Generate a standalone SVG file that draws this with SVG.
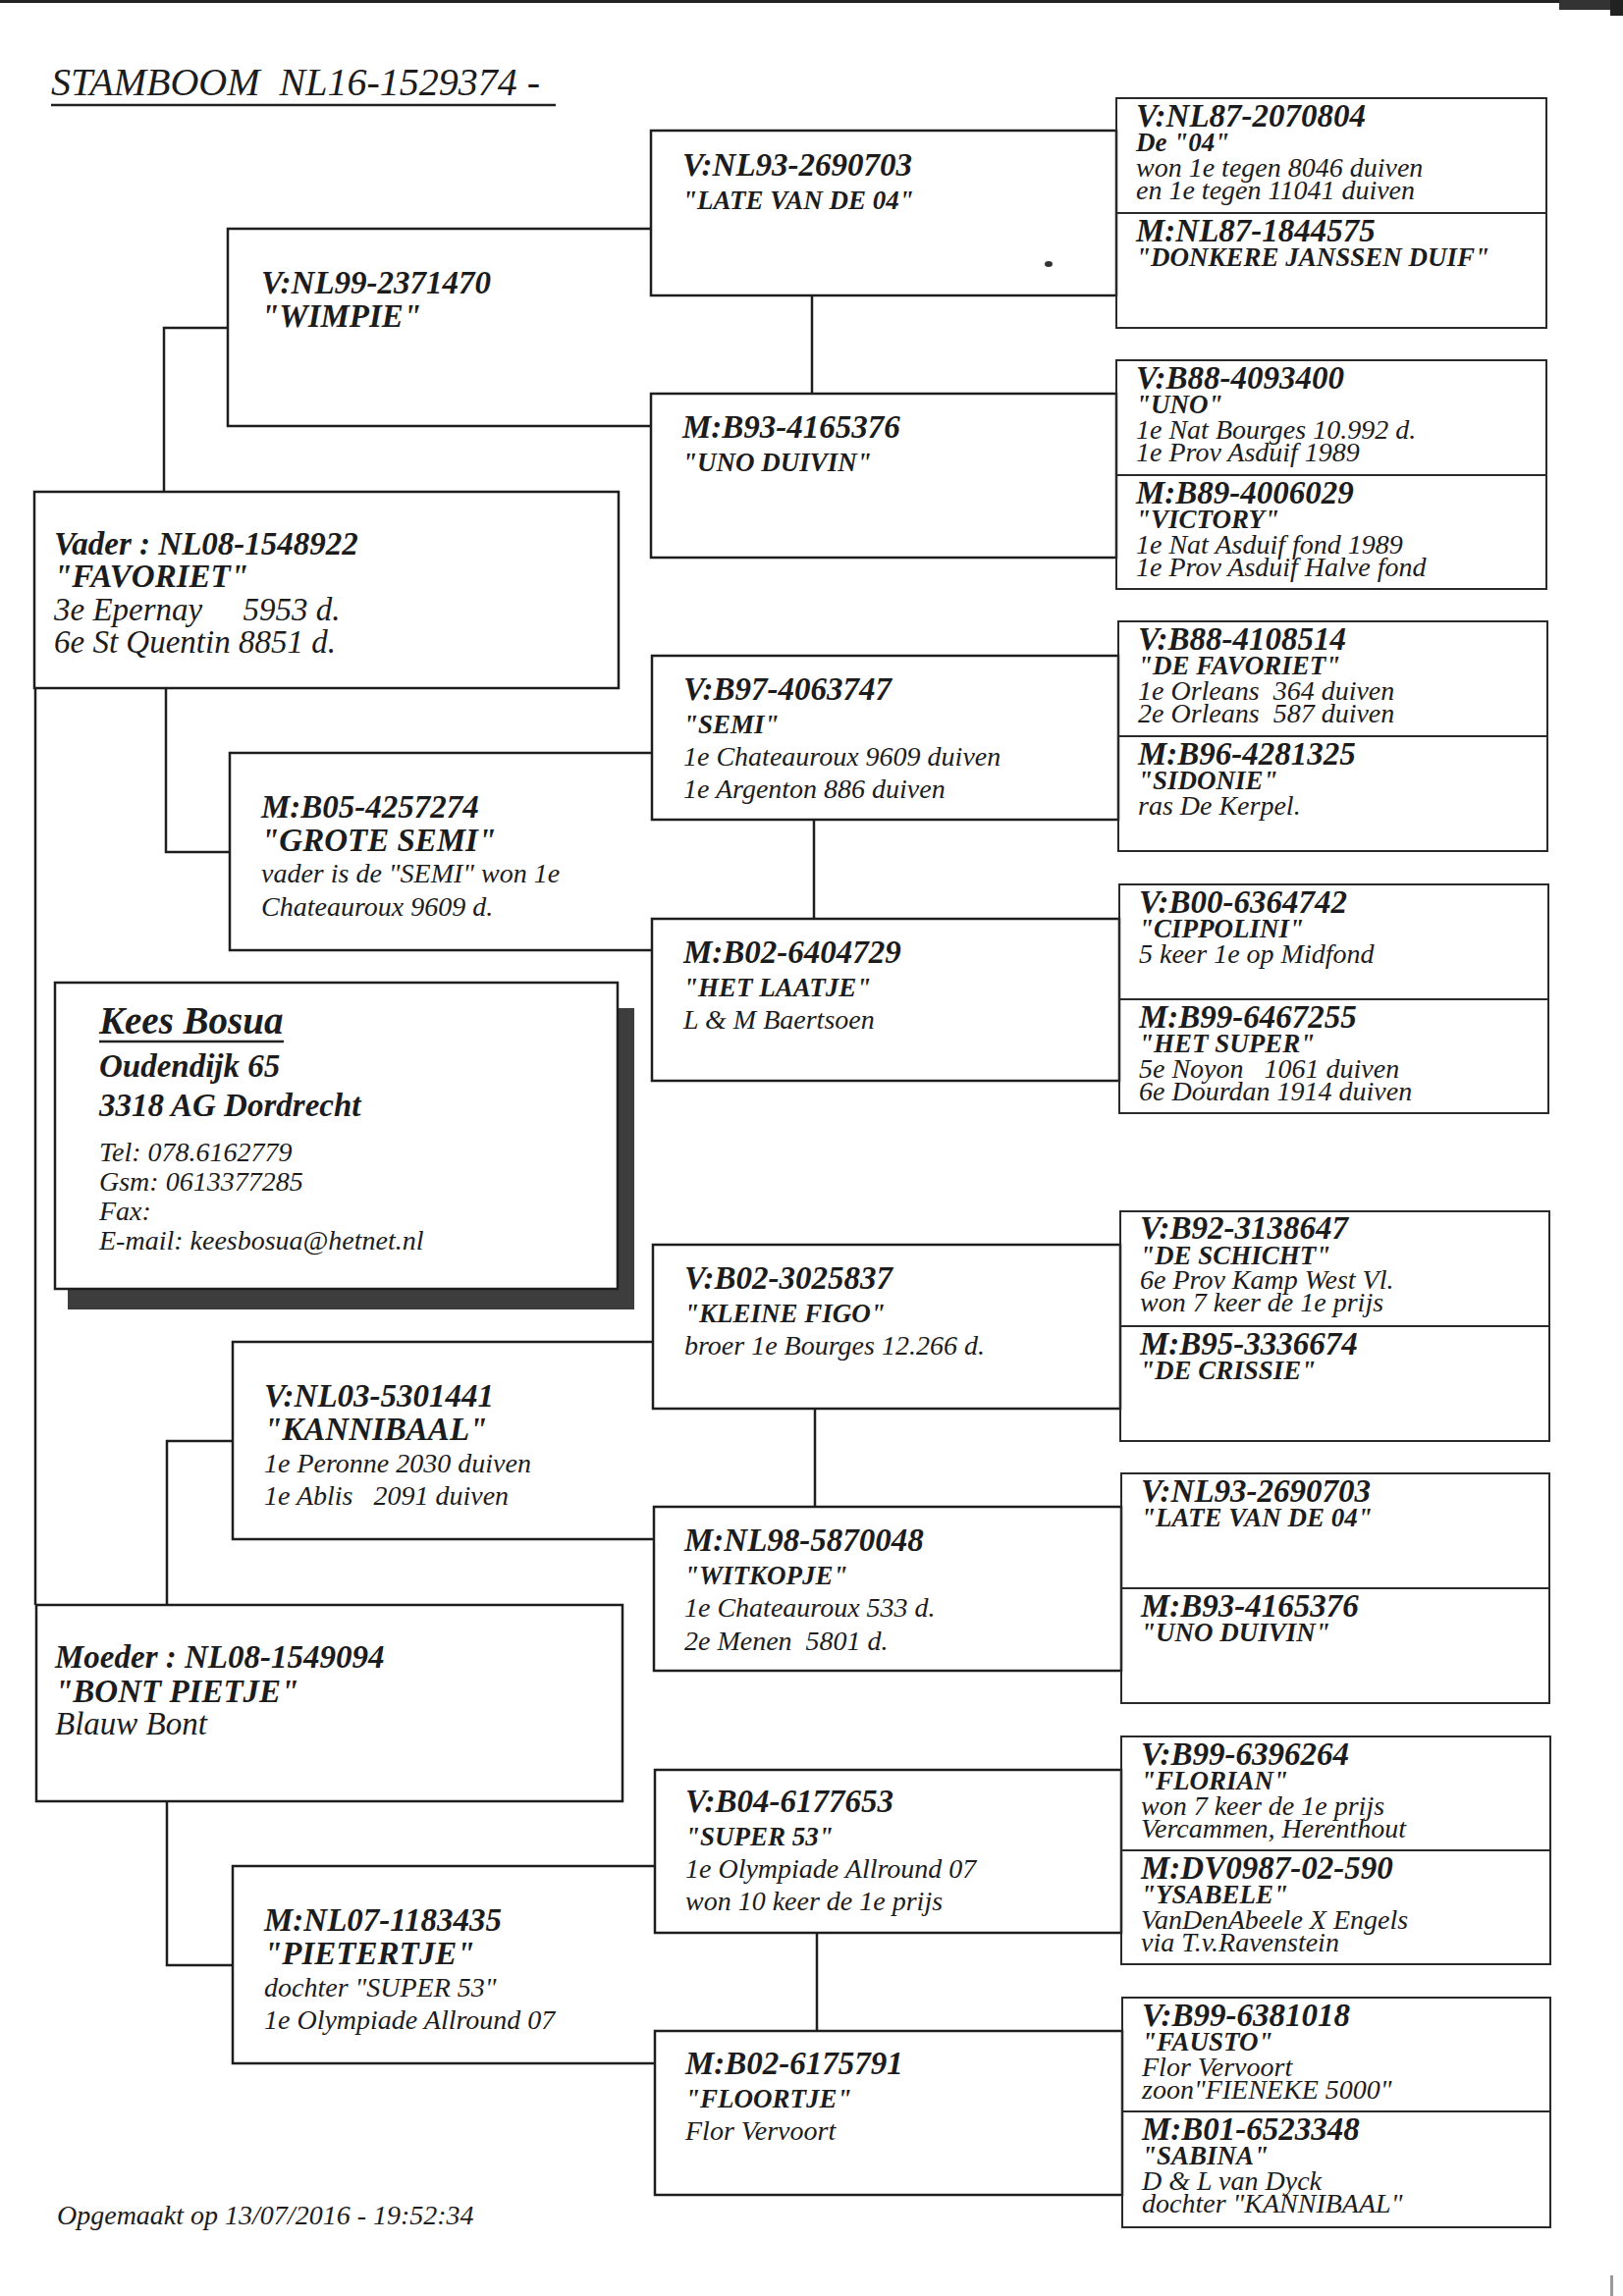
<svg xmlns="http://www.w3.org/2000/svg" width="1653" height="2339" viewBox="0 0 1653 2339">
<style>
text { font-family: "Liberation Serif", "Times New Roman", serif; font-style: italic; fill: #1c1c1c; white-space: pre; }
.id { font-weight: bold; font-size: 33px; }
.n27 { font-weight: bold; font-size: 27px; }
.n33 { font-weight: bold; font-size: 33px; }
.t28 { font-size: 28px; }
.t33 { font-size: 33px; }
.title { font-size: 40px; }
.k39 { font-weight: bold; font-size: 39px; }
.box { fill: none; stroke: #1e1e1e; stroke-width: 2.5; }
.box4 { fill: none; stroke: #2a2a2a; stroke-width: 2; }
.con { fill: none; stroke: #1e1e1e; stroke-width: 2.5; }
</style>
<rect x="0" y="0" width="1653" height="2339" fill="#ffffff"/>
<!-- scan artefacts -->
<rect x="0" y="0" width="1653" height="3" fill="#222"/>
<rect x="1588" y="0" width="65" height="10" fill="#333"/>
<rect x="1640" y="0" width="13" height="16" fill="#222"/>
<rect x="1640" y="2318" width="3" height="21" fill="#999"/>
<ellipse cx="1068" cy="269" rx="4" ry="3" fill="#333"/>

<g id="title">
<text class="title" x="52" y="97">STAMBOOM  NL16-1529374 -</text>
<line x1="52" y1="107" x2="566" y2="107" stroke="#222" stroke-width="2.5"/>
</g>

<g id="connectors">
<path class="con" d="M167,501 V334 H232"/>
<path class="con" d="M169,701 V868 H234"/>
<path class="con" d="M36,701 V1635"/>
<path class="con" d="M170,1635 V1468 H237"/>
<path class="con" d="M170,1835 V2002 H237"/>
<path class="con" d="M827,301 V401"/>
<path class="con" d="M829,835 V936"/>
<path class="con" d="M830,1435 V1535"/>
<path class="con" d="M832,1969 V2069"/>
</g>

<!-- Column 1 -->
<g id="vader">
<rect class="box" x="35" y="501" width="595" height="200"/>
<text class="id" x="55" y="565">Vader : NL08-1548922</text>
<text class="n33" x="55" y="598">"FAVORIET"</text>
<text class="t33" x="55" y="632">3e Epernay     5953 d.</text>
<text class="t33" x="55" y="665">6e St Quentin 8851 d.</text>
</g>
<g id="moeder">
<rect class="box" x="37" y="1635" width="597" height="200"/>
<text class="id" x="56" y="1699">Moeder : NL08-1549094</text>
<text class="n33" x="56" y="1734">"BONT PIETJE"</text>
<text class="t33" x="56" y="1767">Blauw Bont</text>
</g>

<g id="kees">
<rect x="630" y="1027" width="16" height="307" fill="#3d3d3d"/>
<rect x="69" y="1313" width="577" height="21" fill="#3d3d3d"/>
<rect class="box" x="56" y="1001" width="573" height="312" fill="#fff"/>
<text class="k39" x="101" y="1053">Kees Bosua</text>
<line x1="101" y1="1061" x2="289" y2="1061" stroke="#222" stroke-width="2.5"/>
<text class="n33" x="101" y="1097">Oudendijk 65</text>
<text class="n33" x="101" y="1137">3318 AG Dordrecht</text>
<text class="t28" x="101" y="1183">Tel: 078.6162779</text>
<text class="t28" x="101" y="1213">Gsm: 0613377285</text>
<text class="t28" x="101" y="1243">Fax:</text>
<text class="t28" x="101" y="1273">E-mail: keesbosua@hetnet.nl</text>
</g>

<!-- Column 2 -->
<g id="wimpie">
<path class="box" d="M663,233 H232 V434 H663"/>
<text class="id" x="266" y="299">V:NL99-2371470</text>
<text class="n33" x="266" y="333">"WIMPIE"</text>
</g>
<g id="grote-semi">
<path class="box" d="M664,767 H234 V968 H664"/>
<text class="id" x="266" y="833">M:B05-4257274</text>
<text class="n33" x="266" y="867">"GROTE SEMI"</text>
<text class="t28" x="266" y="899">vader is de "SEMI" won 1e</text>
<text class="t28" x="266" y="933">Chateauroux 9609 d.</text>
</g>
<g id="kannibaal">
<path class="box" d="M665,1367 H237 V1568 H666"/>
<text class="id" x="269" y="1433">V:NL03-5301441</text>
<text class="n33" x="269" y="1467">"KANNIBAAL"</text>
<text class="t28" x="269" y="1500">1e Peronne 2030 duiven</text>
<text class="t28" x="269" y="1533">1e Ablis   2091 duiven</text>
</g>
<g id="pietertje">
<path class="box" d="M667,1901 H237 V2102 H667"/>
<text class="id" x="269" y="1967">M:NL07-1183435</text>
<text class="n33" x="269" y="2001">"PIETERTJE"</text>
<text class="t28" x="269" y="2034">dochter "SUPER 53"</text>
<text class="t28" x="269" y="2067">1e Olympiade Allround 07</text>
</g>

<!-- Column 3 -->
<g id="c3-1">
<rect class="box" x="663" y="133" width="474" height="168"/>
<text class="id" x="695" y="179">V:NL93-2690703</text>
<text class="n27" x="695" y="213">"LATE VAN DE 04"</text>
</g>
<g id="c3-2">
<rect class="box" x="663" y="401" width="474" height="167"/>
<text class="id" x="695" y="446">M:B93-4165376</text>
<text class="n27" x="695" y="480">"UNO DUIVIN"</text>
</g>
<g id="c3-3">
<rect class="box" x="664" y="668" width="475" height="167"/>
<text class="id" x="696" y="713">V:B97-4063747</text>
<text class="n27" x="696" y="747">"SEMI"</text>
<text class="t28" x="696" y="780">1e Chateauroux 9609 duiven</text>
<text class="t28" x="696" y="813">1e Argenton 886 duiven</text>
</g>
<g id="c3-4">
<rect class="box" x="664" y="936" width="476" height="165"/>
<text class="id" x="696" y="981">M:B02-6404729</text>
<text class="n27" x="696" y="1015">"HET LAATJE"</text>
<text class="t28" x="696" y="1048">L &amp; M Baertsoen</text>
</g>
<g id="c3-5">
<rect class="box" x="665" y="1268" width="476" height="167"/>
<text class="id" x="697" y="1313">V:B02-3025837</text>
<text class="n27" x="697" y="1347">"KLEINE FIGO"</text>
<text class="t28" x="697" y="1380">broer 1e Bourges 12.266 d.</text>
</g>
<g id="c3-6">
<rect class="box" x="666" y="1535" width="476" height="167"/>
<text class="id" x="697" y="1580">M:NL98-5870048</text>
<text class="n27" x="697" y="1614">"WITKOPJE"</text>
<text class="t28" x="697" y="1647">1e Chateauroux 533 d.</text>
<text class="t28" x="697" y="1681">2e Menen  5801 d.</text>
</g>
<g id="c3-7">
<rect class="box" x="667" y="1803" width="475" height="166"/>
<text class="id" x="698" y="1846">V:B04-6177653</text>
<text class="n27" x="698" y="1880">"SUPER 53"</text>
<text class="t28" x="698" y="1913">1e Olympiade Allround 07</text>
<text class="t28" x="698" y="1946">won 10 keer de 1e prijs</text>
</g>
<g id="c3-8">
<rect class="box" x="667" y="2069" width="476" height="167"/>
<text class="id" x="698" y="2113">M:B02-6175791</text>
<text class="n27" x="698" y="2147">"FLOORTJE"</text>
<text class="t28" x="698" y="2180">Flor Vervoort</text>
</g>

<!-- Column 4 -->
<g id="c4-1v">
<rect class="box4" x="1137" y="100" width="438" height="117"/>
<text class="id" x="1157" y="129">V:NL87-2070804</text>
<text class="n27" x="1157" y="154">De "04"</text>
<text class="t28" x="1157" y="180">won 1e tegen 8046 duiven</text>
<text class="t28" x="1157" y="203">en 1e tegen 11041 duiven</text>
</g>
<g id="c4-1m">
<rect class="box4" x="1137" y="217" width="438" height="117"/>
<text class="id" x="1157" y="246">M:NL87-1844575</text>
<text class="n27" x="1157" y="271">"DONKERE JANSSEN DUIF"</text>
</g>
<g id="c4-2v">
<rect class="box4" x="1137" y="367" width="438" height="117"/>
<text class="id" x="1157" y="396">V:B88-4093400</text>
<text class="n27" x="1157" y="421">"UNO"</text>
<text class="t28" x="1157" y="447">1e Nat Bourges 10.992 d.</text>
<text class="t28" x="1157" y="470">1e Prov Asduif 1989</text>
</g>
<g id="c4-2m">
<rect class="box4" x="1137" y="484" width="438" height="116"/>
<text class="id" x="1157" y="513">M:B89-4006029</text>
<text class="n27" x="1157" y="538">"VICTORY"</text>
<text class="t28" x="1157" y="564">1e Nat Asduif fond 1989</text>
<text class="t28" x="1157" y="587">1e Prov Asduif Halve fond</text>
</g>
<g id="c4-3v">
<rect class="box4" x="1139" y="633" width="437" height="117"/>
<text class="id" x="1159" y="662">V:B88-4108514</text>
<text class="n27" x="1159" y="687">"DE FAVORIET"</text>
<text class="t28" x="1159" y="713">1e Orleans  364 duiven</text>
<text class="t28" x="1159" y="736">2e Orleans  587 duiven</text>
</g>
<g id="c4-3m">
<rect class="box4" x="1139" y="750" width="437" height="117"/>
<text class="id" x="1159" y="779">M:B96-4281325</text>
<text class="n27" x="1159" y="804">"SIDONIE"</text>
<text class="t28" x="1159" y="830">ras De Kerpel.</text>
</g>
<g id="c4-4v">
<rect class="box4" x="1140" y="901" width="437" height="117"/>
<text class="id" x="1160" y="930">V:B00-6364742</text>
<text class="n27" x="1160" y="955">"CIPPOLINI"</text>
<text class="t28" x="1160" y="981">5 keer 1e op Midfond</text>
</g>
<g id="c4-4m">
<rect class="box4" x="1140" y="1018" width="437" height="116"/>
<text class="id" x="1160" y="1047">M:B99-6467255</text>
<text class="n27" x="1160" y="1072">"HET SUPER"</text>
<text class="t28" x="1160" y="1098">5e Noyon   1061 duiven</text>
<text class="t28" x="1160" y="1121">6e Dourdan 1914 duiven</text>
</g>
<g id="c4-5v">
<rect class="box4" x="1141" y="1234" width="437" height="117"/>
<text class="id" x="1161" y="1262">V:B92-3138647</text>
<text class="n27" x="1161" y="1288">"DE SCHICHT"</text>
<text class="t28" x="1161" y="1313">6e Prov Kamp West Vl.</text>
<text class="t28" x="1161" y="1336">won 7 keer de 1e prijs</text>
</g>
<g id="c4-5m">
<rect class="box4" x="1141" y="1351" width="437" height="117"/>
<text class="id" x="1161" y="1380">M:B95-3336674</text>
<text class="n27" x="1161" y="1405">"DE CRISSIE"</text>
</g>
<g id="c4-6v">
<rect class="box4" x="1142" y="1501" width="436" height="117"/>
<text class="id" x="1162" y="1530">V:NL93-2690703</text>
<text class="n27" x="1162" y="1555">"LATE VAN DE 04"</text>
</g>
<g id="c4-6m">
<rect class="box4" x="1142" y="1618" width="436" height="117"/>
<text class="id" x="1162" y="1647">M:B93-4165376</text>
<text class="n27" x="1162" y="1672">"UNO DUIVIN"</text>
</g>
<g id="c4-7v">
<rect class="box4" x="1142" y="1769" width="437" height="116"/>
<text class="id" x="1162" y="1798">V:B99-6396264</text>
<text class="n27" x="1162" y="1823">"FLORIAN"</text>
<text class="t28" x="1162" y="1849">won 7 keer de 1e prijs</text>
<text class="t28" x="1162" y="1872">Vercammen, Herenthout</text>
</g>
<g id="c4-7m">
<rect class="box4" x="1142" y="1885" width="437" height="116"/>
<text class="id" x="1162" y="1914">M:DV0987-02-590</text>
<text class="n27" x="1162" y="1939">"YSABELE"</text>
<text class="t28" x="1162" y="1965">VanDenAbeele X Engels</text>
<text class="t28" x="1162" y="1988">via T.v.Ravenstein</text>
</g>
<g id="c4-8v">
<rect class="box4" x="1143" y="2035" width="436" height="116"/>
<text class="id" x="1163" y="2064">V:B99-6381018</text>
<text class="n27" x="1163" y="2089">"FAUSTO"</text>
<text class="t28" x="1163" y="2115">Flor Vervoort</text>
<text class="t28" x="1163" y="2138">zoon"FIENEKE 5000"</text>
</g>
<g id="c4-8m">
<rect class="box4" x="1143" y="2151" width="436" height="118"/>
<text class="id" x="1163" y="2180">M:B01-6523348</text>
<text class="n27" x="1163" y="2205">"SABINA"</text>
<text class="t28" x="1163" y="2231">D &amp; L van Dyck</text>
<text class="t28" x="1163" y="2254">dochter "KANNIBAAL"</text>
</g>

<g id="footer">
<text class="t28" x="58" y="2266">Opgemaakt op 13/07/2016 - 19:52:34</text>
</g>
</svg>
